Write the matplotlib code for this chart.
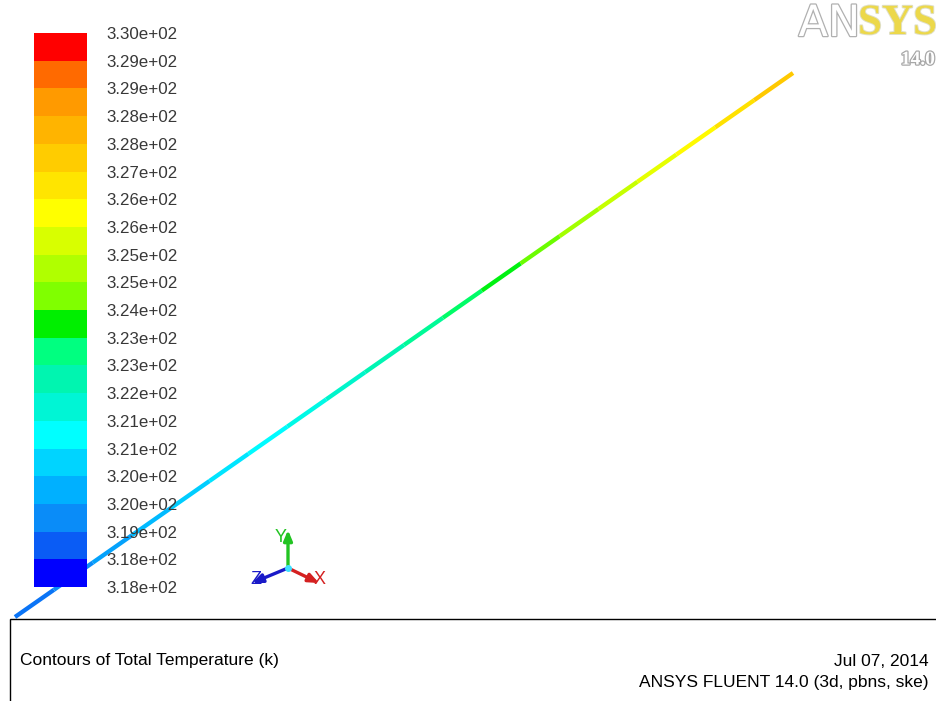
import numpy as np
import matplotlib
matplotlib.use("Agg")
import matplotlib.pyplot as plt
from matplotlib.colors import ListedColormap, BoundaryNorm, LinearSegmentedColormap, Normalize
from matplotlib.collections import LineCollection
from matplotlib.cm import ScalarMappable
from matplotlib.patches import Rectangle
import matplotlib.patheffects as pe

plt.rcParams['font.family'] = ['Liberation Sans', 'DejaVu Sans']

# ---------------- data ----------------
# contour band colours, bottom (cold) to top (hot)
band_colors = ['#0000ff', '#0a5cf5', '#0a8cf8', '#00b0ff', '#00d4ff',
               '#00ffff', '#00f5d5', '#00f5b0', '#00ff80', '#00ef00',
               '#80ff00', '#b0ff00', '#d8ff00', '#ffff00', '#ffe500',
               '#ffcc00', '#ffb400', '#ff9a00', '#ff6a00', '#ff0000']
tick_labels = ['3.18e+02', '3.18e+02', '3.19e+02', '3.20e+02', '3.20e+02',
               '3.21e+02', '3.21e+02', '3.22e+02', '3.23e+02', '3.23e+02',
               '3.24e+02', '3.25e+02', '3.25e+02', '3.26e+02', '3.26e+02',
               '3.27e+02', '3.28e+02', '3.28e+02', '3.29e+02', '3.29e+02',
               '3.30e+02']
t_min, t_max = 317.8, 329.9

# pipe (projected view) and temperature samples along it
pipe_start = (15, 617)
pipe_end = (793, 73)
pipe_s = [0.00, 0.05, 0.10, 0.15, 0.20, 0.25, 0.30, 0.35, 0.40, 0.45, 0.50,
          0.55, 0.60, 0.65, 0.70, 0.75, 0.80, 0.85, 0.90, 0.95, 1.00]
pipe_temp = [318.6, 318.9, 319.3, 319.7, 320.1, 320.4, 320.8, 321.1, 321.6,
             322.0, 322.4, 322.8, 323.2, 323.7, 324.4, 324.9, 325.4, 325.9,
             326.5, 327.1, 327.7]

# ---------------- figure ----------------
W, H = 937, 701
fig = plt.figure(figsize=(W / 100, H / 100), dpi=100)
ax = fig.add_axes([0, 0, 1, 1])
ax.set_xlim(0, W)
ax.set_ylim(H, 0)
ax.axis('off')

bounds = np.linspace(t_min, t_max, len(band_colors) + 1)
band_cmap = ListedColormap(band_colors)
band_norm = BoundaryNorm(bounds, band_cmap.N)
smooth_cmap = LinearSegmentedColormap.from_list('fluent', band_colors)
smooth_norm = Normalize(t_min, t_max)

# pipe
s = np.asarray(pipe_s)
px = pipe_start[0] + s * (pipe_end[0] - pipe_start[0])
py = pipe_start[1] + s * (pipe_end[1] - pipe_start[1])
pts = np.column_stack([px, py])
segs = np.stack([pts[:-1], pts[1:]], axis=1)
tv = np.asarray(pipe_temp)
seg_t = 0.5 * (tv[:-1] + tv[1:])
lc = LineCollection(segs, colors=smooth_cmap(smooth_norm(seg_t)),
                    linewidths=3.1, capstyle='butt', zorder=2)
ax.add_collection(lc)

# bottom info panel
ax.add_patch(Rectangle((10, 619), W, 90, facecolor='white',
                       edgecolor='black', linewidth=1.0, zorder=3))
ax.text(20, 661, 'Contours of Total Temperature (k)', fontsize=12.5,
        va='center', ha='left', color='black', zorder=4)
ax.text(929, 661, 'Jul 07, 2014', fontsize=12.5, va='center', ha='right',
        color='black', zorder=4)
ax.text(929, 682, 'ANSYS FLUENT 14.0 (3d, pbns, ske)', fontsize=12.5,
        va='center', ha='right', color='black', zorder=4)

# axis triad
origin = (288, 568)
triad = [((288, 530), '#22c422', 'Y', (281, 538)),
         ((319, 583), '#d42020', 'X', (320, 580)),
         ((252, 583), '#1a1ac8', 'Z', (256, 580))]
for tip, col, lab, lpos in triad:
    ax.annotate('', xy=tip, xytext=origin,
                arrowprops=dict(arrowstyle='-|>,head_length=0.6,head_width=0.25',
                                color=col, lw=2.4, shrinkA=0, shrinkB=0), zorder=5)
    ax.text(lpos[0], lpos[1], lab, color=col, fontsize=13, ha='center',
            va='center', zorder=6)
ax.plot([origin[0]], [origin[1]], 'o', color='#40e0ff', ms=4, zorder=7)

# ANSYS logo
outline = [pe.withStroke(linewidth=1.8, foreground='#b0b0b0')]
ax.text(860, 24, 'AN', fontsize=31, ha='right', va='center', color='white',
        family='DejaVu Sans', path_effects=outline, zorder=5)
ax.text(858, 24, 'SYS', fontsize=31, ha='left', va='center', color='#ecd84a',
        family='Liberation Serif', weight='bold',
        path_effects=[pe.withStroke(linewidth=1.4, foreground='#e0e0c8')], zorder=5)
ax.text(935, 60, '14.0', fontsize=14, ha='right', va='center', color='white',
        family='Liberation Serif', weight='bold',
        path_effects=[pe.withStroke(linewidth=1.8, foreground='#a8a8a8')], zorder=5)

# colour bar
cax = fig.add_axes([34 / W, (H - 587) / H, 53 / W, 554 / H])
cb = fig.colorbar(ScalarMappable(norm=band_norm, cmap=band_cmap), cax=cax,
                  ticks=bounds, spacing='proportional')
cb.outline.set_visible(False)
cb.set_ticklabels(tick_labels)
cax.tick_params(length=0, pad=14, labelsize=12.2, labelcolor='#383838')

fig.savefig('out.png', dpi=100)
